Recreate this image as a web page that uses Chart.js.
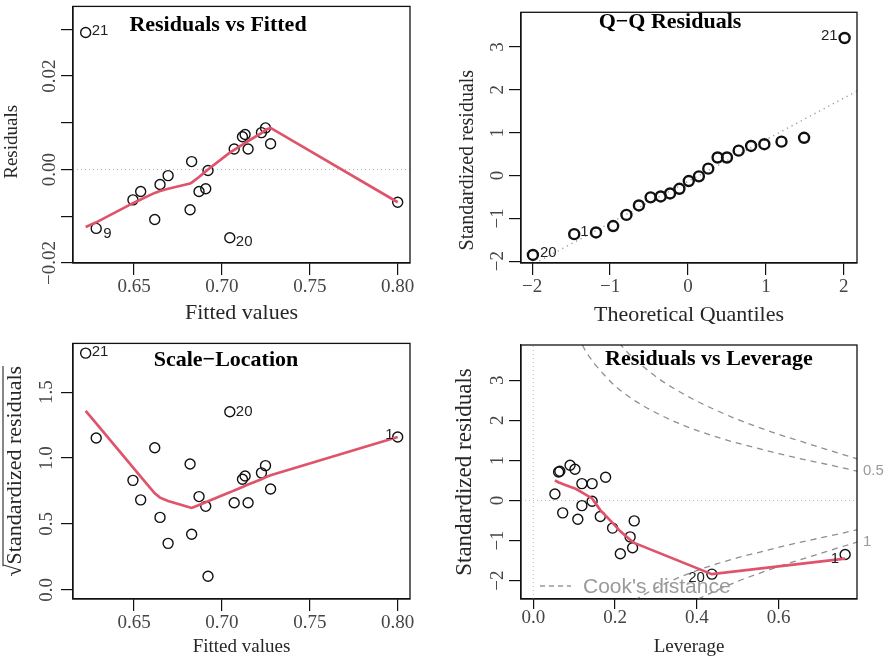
<!DOCTYPE html>
<html>
<head>
<meta charset="utf-8">
<script src="https://cdn.jsdelivr.net/npm/chart.js@4.4.1/dist/chart.umd.min.js"></script>
<style>
  body { margin: 0; background: #fff; }
  #wrap { position: relative; width: 886px; height: 660px; background: #fff; }
  .panel { position: absolute; width: 443px; height: 330px; }
</style>
</head>
<body>
<div id="wrap">
  <div class="panel" style="left:0;top:0"><canvas id="p1" width="443" height="330"></canvas></div>
  <div class="panel" style="left:443px;top:0"><canvas id="p2" width="443" height="330"></canvas></div>
  <div class="panel" style="left:0;top:330px"><canvas id="p3" width="443" height="330"></canvas></div>
  <div class="panel" style="left:443px;top:330px"><canvas id="p4" width="443" height="330"></canvas></div>
</div>
<script>
const fittedValues = [0.6225, 0.6285, 0.6494, 0.6538, 0.6618, 0.6648, 0.6694, 0.6819, 0.6828, 0.6870, 0.6908,
                      0.6921, 0.7045, 0.7070, 0.7117, 0.7132, 0.7149, 0.7225, 0.7248, 0.7277, 0.8000]
const residuals = [0.0293, -0.0126, -0.0065, -0.0047, -0.0107, -0.0032, -0.0013, -0.0086, 0.0017, -0.0047, -0.0041,
                   -0.0002, -0.0146, 0.0044, 0.0070, 0.0075, 0.0044, 0.0079, 0.0089, 0.0055, -0.0070]
const residSmooth = [-0.0123, -0.0113, -0.0072, -0.0064, -0.0050, -0.0046, -0.0041, -0.0030, -0.0028, -0.0016, -0.0004,
                     0.0000, 0.0036, 0.0042, 0.0053, 0.0057, 0.0061, 0.0078, 0.0085, 0.0089, -0.0070]
const sqrtStdResid = [1.796, 1.152, 0.831, 0.683, 1.078, 0.550, 0.353, 0.955, 0.422, 0.708, 0.634,
                      0.104, 1.352, 0.661, 0.839, 0.864, 0.661, 0.888, 0.943, 0.765, 1.160]
const sqrtSmooth = [1.358, 1.263, 0.930, 0.860, 0.733, 0.700, 0.675, 0.625, 0.622, 0.645, 0.665,
                    0.672, 0.740, 0.755, 0.780, 0.790, 0.800, 0.840, 0.855, 0.870, 1.160]

// Q-Q
const theoQuantiles = [-1.99, -1.46, -1.18, -0.96, -0.79, -0.63, -0.48, -0.35, -0.23, -0.11, 0.01,
                       0.14, 0.26, 0.38, 0.50, 0.65, 0.81, 0.98, 1.20, 1.49, 2.01]
const stdResidSorted = [-1.856, -1.37, -1.33, -1.18, -0.92, -0.70, -0.51, -0.49, -0.42, -0.31, -0.13,
                        -0.02, 0.16, 0.42, 0.42, 0.58, 0.69, 0.73, 0.79, 0.88, 3.21]
const qqLineX = [-2.143, 2.169]
const qqLineY = [-2.223, 1.972]

// Residuals vs Leverage (obs 21 is not shown there)
const leverage = [0.053, 0.062, 0.065, 0.072, 0.090, 0.102, 0.109, 0.119, 0.119, 0.144, 0.144,
                  0.164, 0.177, 0.194, 0.213, 0.237, 0.243, 0.247, 0.437, 0.763]
const stdResidLev = [0.16, 0.71, 0.73, -0.31, 0.88, 0.78, -0.47, 0.42, -0.13, 0.42, -0.02,
                     -0.40, 0.58, -0.69, -1.33, -0.91, -1.18, -0.51, -1.84, -1.35]
const levSmooth = [0.50, 0.45, 0.44, 0.41, 0.34, 0.30, 0.26, 0.20, 0.20, 0.05, 0.05,
                   -0.24, -0.38, -0.56, -0.77, -0.98, -1.03, -1.06, -1.84, -1.45]
const cookH05 = [0.12, 0.13, 0.14, 0.15, 0.175, 0.2, 0.25, 0.3, 0.35, 0.4, 0.45, 0.5, 0.55, 0.6, 0.65, 0.7, 0.75, 0.792]
const cookY05 = [3.88, 3.70, 3.55, 3.41, 3.12, 2.86, 2.48, 2.19, 1.95, 1.75, 1.58, 1.43, 1.30, 1.17, 1.05, 0.94, 0.83, 0.73]
const cookH1 = [0.21, 0.23, 0.25, 0.3, 0.35, 0.4, 0.45, 0.5, 0.55, 0.6, 0.65, 0.7, 0.75, 0.792]
const cookY1 = [3.93, 3.70, 3.51, 3.09, 2.76, 2.48, 2.24, 2.02, 1.83, 1.65, 1.49, 1.33, 1.17, 1.04]
const cookLevelPos = [0.73, -1.04]
const cookLevelLabels = ['0.5', '1']

// ---- axes ----
const fitRange = [0.6153, 0.8070]
const fitTicks = [0.65, 0.70, 0.75, 0.80]
const fitTickLabels = ['0.65', '0.70', '0.75', '0.80']
const residRange = [-0.0200, 0.0349]
const residTicks = [-0.02, -0.01, 0, 0.01, 0.02, 0.03]
const residTickLabels = ['\u22120.02', '', '0.00', '', '0.02', '']
const qqXRange = [-2.143, 2.169]
const qqYRange = [-2.043, 3.81]
const unitTicks = [-2, -1, 0, 1, 2, 3]
const unitTickLabels = ['\u22122', '\u22121', '0', '1', '2', '3']
const slRange = [-0.069, 1.870]
const slTicks = [0, 0.5, 1, 1.5]
const slTickLabels = ['0.0', '0.5', '1.0', '1.5']
const levRange = [-0.030, 0.792]
const levYRange = [-2.46, 3.88]
const levTicks = [0, 0.2, 0.4, 0.6]
const levTickLabels = ['0.0', '0.2', '0.4', '0.6']

const SERIF = '"Liberation Serif", "Times New Roman", serif'
const SANS = '"Liberation Sans", Arial, sans-serif'
const RED = '#DF536B'
const TICK_COL = '#454545'
const TITLE_COL = '#262626'
const NB = '\u00a0'

function xy(xs, ys) { return xs.map((x, i) => ({ x: x, y: ys[i] })) }

function axis(o) {
    const vertical = o.position === 'left'
    return {
        type: 'linear',
        position: o.position,
        min: o.range[0], max: o.range[1],
        afterBuildTicks: s => { s.ticks = o.ticks.map(v => ({ value: v })) },
        afterFit: s => { if (vertical) s.width = o.size; else s.height = o.size },
        ticks: {
            autoSkip: false,
            minRotation: vertical ? 90 : 0,
            maxRotation: vertical ? 90 : 0,
            crossAlign: vertical ? 'center' : 'near',
            padding: o.pad,
            color: TICK_COL,
            font: { family: SERIF, size: 19, lineHeight: 1.2 },
            callback: (v, i) => o.labels[i]
        },
        grid: { drawOnChartArea: false, drawTicks: true, tickLength: o.tl || 12, color: '#111', lineWidth: 1.2 },
        border: { display: true, color: '#111', width: 1.2 },
        title: {
            display: true, text: o.title, color: TITLE_COL,
            font: { family: SERIF, size: o.titleSize, lineHeight: 1 },
            padding: vertical ? { top: o.titlePad, bottom: 0 } : { top: 0, bottom: o.titlePad }
        }
    }
}

const circles = (data, bw) => ({ data, showLine: false, pointRadius: 5, pointBorderWidth: bw,
    pointBorderColor: '#111', pointBackgroundColor: 'rgba(0,0,0,0)', order: 1 })
const smooth = data => ({ data, showLine: true, borderColor: RED, borderWidth: 2.7, pointRadius: 0, order: 0 })
const refLine = (data, color, dash, w, curve) => ({ data, showLine: true, borderColor: color, borderDash: dash,
    borderWidth: w, pointRadius: 0, order: 2, cubicInterpolationMode: curve ? 'monotone' : 'default' })

// box, panel title, point labels and legend
function decor(d) {
    return {
        id: 'rdecor',
        afterDatasetsDraw(chart) {
            const ctx = chart.ctx, a = chart.chartArea
            ctx.save()
            ctx.strokeStyle = '#111'
            ctx.lineWidth = 1.3
            ctx.strokeRect(a.left, a.top, a.right - a.left, a.bottom - a.top)

            ctx.fillStyle = '#000'
            ctx.textAlign = 'center'
            ctx.textBaseline = 'middle'
            ctx.font = d.weight + ' 22px ' + SERIF
            ctx.fillText(d.title, d.tx, d.ty)

            ctx.font = '15px ' + SANS
            ctx.fillStyle = '#222'
            const meta = chart.getDatasetMeta(0)
            d.labels.forEach(l => {
                const p = meta.data[l.i]
                ctx.textAlign = l.dx < 0 ? 'right' : 'left'
                ctx.fillText(l.text, p.x + l.dx, p.y + l.dy)
            })

            if (d.legend) {
                const ly = a.bottom - 13
                ctx.strokeStyle = '#999'
                ctx.lineWidth = 1.3
                ctx.setLineDash([5, 4])
                ctx.beginPath()
                ctx.moveTo(a.left + 19, ly)
                ctx.lineTo(a.left + 50, ly)
                ctx.stroke()
                ctx.setLineDash([])
                ctx.fillStyle = '#9a9a9a'
                ctx.font = '21px ' + SANS
                ctx.textAlign = 'left'
                ctx.fillText("Cook's distance", a.left + 62, ly + 1)
            }

            if (d.sqrtBar) {
                // overline of the square root in the y title
                const ys = chart.scales.y
                const t = ys.options.title
                ctx.font = t.font.size + 'px ' + SERIF
                const w = ctx.measureText(t.text).width
                const sw = ctx.measureText('\u221a').width
                const cx = ys.left + t.padding.top + t.font.size / 2
                const cy = (a.top + a.bottom) / 2
                ctx.strokeStyle = TITLE_COL
                ctx.lineWidth = 1.1
                ctx.beginPath()
                ctx.moveTo(cx - d.barOff, cy + w / 2 - sw * 0.85)
                ctx.lineTo(cx - d.barOff, cy - w / 2)
                ctx.stroke()
            }
            ctx.restore()
        }
    }
}

function makeChart(id, c) {
    new Chart(document.getElementById(id), {
        type: 'scatter',
        data: { datasets: c.datasets },
        options: {
            responsive: false,
            animation: false,
            events: [],
            layout: { padding: c.padding },
            scales: c.scales,
            plugins: { legend: { display: false }, tooltip: { enabled: false } }
        },
        plugins: [decor(c.decor)]
    })
}

// Residuals vs Fitted
makeChart('p1', {
    padding: { top: 3, right: 33, left: 0, bottom: 0 },
    datasets: [
        circles(xy(fittedValues, residuals), 1.4),
        smooth(xy(fittedValues, residSmooth)),
        refLine(xy(fitRange, [0, 0]), '#b5b5b5', [1, 3], 1)
    ],
    scales: {
        x: axis({ position: 'bottom', range: fitRange, ticks: fitTicks, labels: fitTickLabels, size: 67, pad: 0.6,
                  title: 'Fitted values', titleSize: 22, titlePad: 6 }),
        y: axis({ position: 'left', range: residRange, ticks: residTicks, labels: residTickLabels, size: 73, pad: -11,
                  title: 'Residuals' + NB.repeat(3), titleSize: 19, titlePad: 2.5 })
    },
    decor: { title: 'Residuals vs Fitted', weight: 'bold', tx: 218, ty: 25,
             labels: [{ i: 0, text: '21', dx: 6, dy: -2 }, { i: 1, text: '9', dx: 7, dy: 5 }, { i: 12, text: '20', dx: 6, dy: 4 }] }
})

// Q-Q Residuals
makeChart('p2', {
    padding: { top: 3, right: 29, left: 0, bottom: 0 },
    datasets: [
        circles(xy(theoQuantiles, stdResidSorted), 2.4),
        refLine(xy(qqLineX, qqLineY), '#9a9a9a', [1.2, 4], 1.4)
    ],
    scales: {
        x: axis({ position: 'bottom', range: qqXRange, ticks: unitTicks.slice(0, 5), labels: unitTickLabels, size: 67, pad: 0.6,
                  title: 'Theoretical Quantiles', titleSize: 22, titlePad: 4 }),
        y: axis({ position: 'left', range: qqYRange, ticks: unitTicks, labels: unitTickLabels, size: 78, pad: 0.9,
                  title: 'Standardized residuals' + NB.repeat(9), titleSize: 20, titlePad: 15 })
    },
    decor: { title: 'Q\u2212Q Residuals', weight: 'bold', tx: 227, ty: 22,
             labels: [{ i: 0, text: '20', dx: 7, dy: -2 }, { i: 1, text: '1', dx: 6, dy: -2 }, { i: 20, text: '21', dx: -7, dy: -2 }] }
})

// Scale-Location
makeChart('p3', {
    padding: { top: 7, right: 33, left: 0, bottom: 0 },
    datasets: [
        circles(xy(fittedValues, sqrtStdResid), 1.4),
        smooth(xy(fittedValues, sqrtSmooth))
    ],
    scales: {
        x: axis({ position: 'bottom', range: fitRange, ticks: fitTicks, labels: fitTickLabels, size: 61, pad: 0.3,
                  title: 'Fitted values', titleSize: 19, titlePad: 3.5 }),
        y: axis({ position: 'left', range: slRange, ticks: slTicks, labels: slTickLabels, size: 73, pad: 2,
                  title: '\u221aStandardized residuals', titleSize: 22, titlePad: 4 })
    },
    decor: { title: 'Scale\u2212Location', weight: 'bold', tx: 226, ty: 30, sqrtBar: true, barOff: 12,
             labels: [{ i: 0, text: '21', dx: 6, dy: -1 }, { i: 12, text: '20', dx: 6, dy: 0 }, { i: 20, text: '1', dx: -4, dy: -2 }] }
})

// Residuals vs Leverage
const cookUp05 = xy(cookH05, cookY05)
const cookLo05 = xy(cookH05, cookY05.map(v => -v))
const cookUp1 = xy(cookH1, cookY1)
const cookLo1 = xy(cookH1, cookY1.map(v => -v))
makeChart('p4', {
    padding: { top: 7, right: 0, left: 0, bottom: 0 },
    datasets: [
        circles(xy(leverage, stdResidLev), 1.4),
        smooth(xy(leverage, levSmooth)),
        refLine(xy(levRange, [0, 0]), '#b5b5b5', [1, 3], 1),
        refLine(xy([0, 0], levYRange), '#b5b5b5', [1, 3], 1),
        refLine(cookUp05, '#8f8f8f', [6, 5], 1.3, true),
        refLine(cookLo05, '#8f8f8f', [6, 5], 1.3, true),
        refLine(cookUp1, '#8f8f8f', [6, 5], 1.3, true),
        refLine(cookLo1, '#8f8f8f', [6, 5], 1.3, true)
    ],
    scales: {
        x: axis({ position: 'bottom', range: levRange, ticks: levTicks, labels: levTickLabels, size: 61, pad: -2, tl: 10,
                  title: 'Leverage', titleSize: 19, titlePad: 3.5 }),
        y: axis({ position: 'left', range: levYRange, ticks: unitTicks, labels: unitTickLabels, size: 78, pad: 0.9,
                  title: 'Standardized residuals', titleSize: 23, titlePad: 10.5 }),
        y2: {
            type: 'linear', position: 'right', min: levYRange[0], max: levYRange[1],
            afterBuildTicks: s => { s.ticks = cookLevelPos.map(v => ({ value: v })) },
            afterFit: s => { s.width = 29 },
            ticks: { autoSkip: false, padding: 6, color: '#9a9a9a', font: { family: SANS, size: 15 },
                     callback: (v, i) => cookLevelLabels[i] },
            grid: { display: false, drawTicks: false },
            border: { display: false }
        }
    },
    decor: { title: 'Residuals vs Leverage', weight: 'bold', tx: 266, ty: 29, legend: true,
             labels: [{ i: 18, text: '20', dx: -7, dy: 4 }, { i: 19, text: '1', dx: -6, dy: 4 }] }
})
</script>
</body>
</html>
